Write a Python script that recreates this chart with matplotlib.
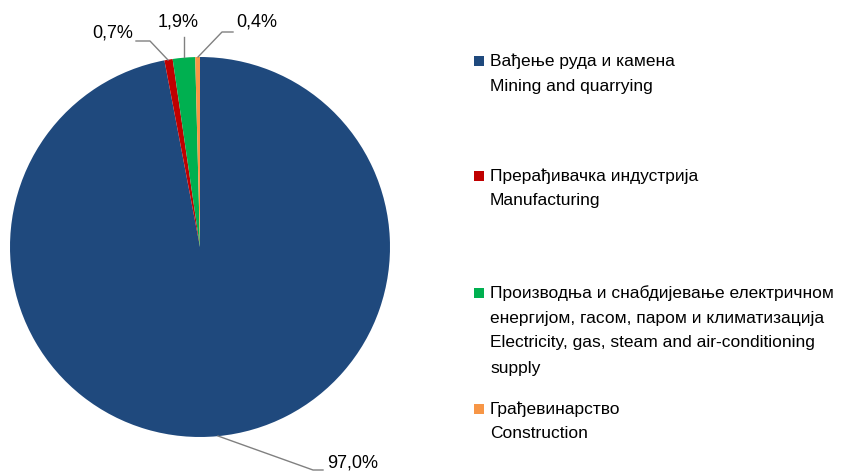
import matplotlib
matplotlib.use("Agg")
import matplotlib.pyplot as plt
from matplotlib import font_manager

# шта је од фонтова доступно
fnt = "Liberation Sans"
try:
    font_manager.findfont("Liberation Sans Narrow", fallback_to_default=False)
    fnt = "Liberation Sans Narrow"
except Exception:
    pass
plt.rcParams["font.family"] = [fnt, "DejaVu Sans"]

sectors_sr = ["Вађење руда и камена",
              "Прерађивачка индустрија",
              "Производња и снабдијевање електричном\nенергијом, гасом, паром и климатизација",
              "Грађевинарство"]
sectors_en = ["Mining and quarrying",
              "Manufacturing",
              "Electricity, gas, steam and air-conditioning\nsupply",
              "Construction"]
shares = [97.0, 0.7, 1.9, 0.4]
colors = ["#1F497D", "#C00000", "#00B050", "#F79646"]

W, H = 842, 472
fig = plt.figure(figsize=(W / 100, H / 100), dpi=100)

# pie: center (200,247), radius 190 px
cx, cy, r = 200, 247, 190
ax = fig.add_axes([(cx - r) / W, (H - cy - r) / H, 2 * r / W, 2 * r / H])
ax.pie(shares, colors=colors, startangle=90, counterclock=False,
       wedgeprops=dict(linewidth=0))
ax.set_xlim(-1, 1)
ax.set_ylim(-1, 1)
ax.set_aspect("equal")
ax.axis("off")

# overlay in pixel coordinates for labels and legend
ov = fig.add_axes([0, 0, 1, 1])
ov.set_xlim(0, W)
ov.set_ylim(H, 0)
ov.axis("off")

def lab(v):
    return f"{v:.1f}".replace(".", ",") + "%"

lc = "#808080"
fs = 12.5
# leader lines: (points), text position, ha
leaders = [
    ([(218, 436), (313, 470), (323, 470)], (327, 463), "left"),
    ([(168, 60), (150, 41), (136, 41)], (133, 33), "right"),
    ([(184, 57), (184, 37)], (178, 22), "center"),
    ([(198, 57), (222, 32), (233, 32)], (236, 22), "left"),
]
for v, (pts, tp, ha) in zip(shares, leaders):
    xs = [p[0] for p in pts]
    ys = [p[1] for p in pts]
    ov.plot(xs, ys, color=lc, lw=1)
    ov.text(tp[0], tp[1], lab(v), fontsize=13, ha=ha, va="center", color="#000000")

# legend
leg_y = [61, 176, 293, 409]
for yy, c, s1, s2 in zip(leg_y, colors, sectors_sr, sectors_en):
    ov.scatter([479], [yy], marker="s", s=48, color=c, linewidths=0)
    lines = s1.split("\n") + s2.split("\n")
    for i, t in enumerate(lines):
        ov.text(490, yy + i * 25, t, fontsize=fs, ha="left", va="center", color="#000000")

fig.savefig("out.png", dpi=100)
